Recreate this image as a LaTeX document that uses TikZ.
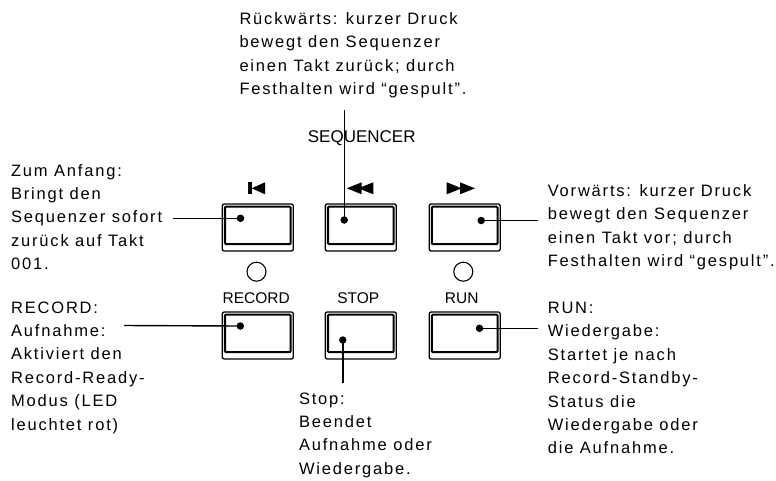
\documentclass[tikz,border=0pt]{standalone}
\usepackage{fontspec}
\setmainfont{Liberation Sans}[LetterSpace=11]
\newfontfamily\keyfont{Liberation Sans}
\usetikzlibrary{positioning}

\tikzset{
  note/.style={anchor=base west, inner sep=0pt, align=left,
    font=\fontsize{16.5}{23.4}\selectfont},
  keylbl/.style={inner sep=0pt, font=\keyfont\fontsize{15.5}{18}\selectfont},
  keyout/.style={draw, line width=1.3pt, rounded corners=2pt,
    minimum width=71pt, minimum height=47pt, inner sep=0pt},
  keyin/.style={draw, line width=2.1pt, rounded corners=1pt},
  dot/.style={circle, fill, inner sep=0pt, minimum size=7.5pt},
  led/.style={circle, draw, line width=1.1pt, inner sep=0pt, minimum size=19pt},
  lead/.style={line width=1.4pt}
}

% key with its inner (pressed) face
\newcommand{\keypad}[3]{%
  \node[keyout] (#1) at (#2,#3) {};
  \draw[keyin] ([shift={(3.3,3.3)}]#1.north west)
    rectangle ([shift={(-3.3,-7.5)}]#1.south east);
}

\begin{document}
\begin{tikzpicture}[x=1pt, y=-1pt]
  \useasboundingbox (0,0) rectangle (776,480);

  % keys
  \keypad{kbeg}{257.8}{227.5}
  \keypad{krew}{360.8}{227.5}
  \keypad{kfwd}{464.7}{227.5}
  \keypad{krec}{257.8}{335.5}
  \keypad{kstp}{360.8}{335.5}
  \keypad{krun}{464.7}{335.5}

  % key symbols
  \fill (248.3,182.3) rectangle (251.7,194.3);
  \fill (265,182.3) -- (265,194.3) -- (251.7,188.3) -- cycle;
  \fill (361.7,182.3) -- (361.7,194.3) -- (346.7,188.3) -- cycle;
  \fill (373.3,182.3) -- (373.3,194.3) -- (358.3,188.3) -- cycle;
  \fill (446.7,182.3) -- (446.7,194.3) -- (461.7,188.3) -- cycle;
  \fill (460,182.3) -- (460,194.3) -- (475,188.3) -- cycle;

  \node[keylbl, font=\keyfont\fontsize{17}{20}\selectfont] (tseq) at (361.7,138.5) {SEQUENCER};
  \node[led] (lrec) at (256.5,271.7) {};
  \node[led] (lrun) at (463.3,271.7) {};
  \node[keylbl] (trec) at (256.3,297.8) {RECORD};
  \node[keylbl] (tstp) at (358.3,297.8) {STOP};
  \node[keylbl] (trun) at (461.7,297.8) {RUN};

  % dots on the keys
  \node[dot] (dbeg) at (240.5,218.3) {};
  \node[dot] (drew) at (344.2,220) {};
  \node[dot] (dfwd) at (481.2,220.5) {};
  \node[dot] (drec) at (240.3,326) {};
  \node[dot] (dstp) at (342.8,340) {};
  \node[dot] (drun) at (479.5,328.3) {};

  % notes (placed at the baseline of their last line)
  \node[note] (nrew) at (239.3,94.7) {Rückwärts: kurzer Druck\\bewegt den Sequenzer\\einen Takt zurück; durch\\Festhalten wird “gespult”.};
  \node[note] (nbeg) at (10.9,269.6) {Zum Anfang:\\Bringt den\\Sequenzer sofort\\zurück auf Takt\\001.};
  \node[note] (nrec) at (10.9,430) {RECORD:\\Aufnahme:\\Aktiviert den\\Record-Ready-\\Modus (LED\\leuchtet rot)};
  \node[note] (nfwd) at (547.6,266.7) {Vorwärts: kurzer Druck\\bewegt den Sequenzer\\einen Takt vor; durch\\Festhalten wird “gespult”.};
  \node[note] (nrun) at (547.6,453.9) {RUN:\\Wiedergabe:\\Startet je nach\\Record-Standby-\\Status die\\Wiedergabe oder\\die Aufnahme.};
  \node[note] (nstp) at (298.8,474.2) {Stop:\\Beendet\\Aufnahme oder\\Wiedergabe.};

  % leaders
  \coordinate (erew) at (344.2,110);
  \coordinate (ebeg) at (173.4,218.3);
  \coordinate (erec) at (124,325.5);
  \coordinate (efwd) at (537.7,220.5);
  \coordinate (erun) at (537.7,328.3);
  \coordinate (estp) at (342.8,383);
  \draw[lead] (erew) -- (drew.center);
  \draw[lead] (ebeg) -- (dbeg.center);
  \draw[lead] (erec) -- (drec.center);
  \draw[lead] (dfwd.center) -- (efwd);
  \draw[lead] (drun.center) -- (erun);
  \draw[lead] (dstp.center) -- (estp);
\end{tikzpicture}
\end{document}
